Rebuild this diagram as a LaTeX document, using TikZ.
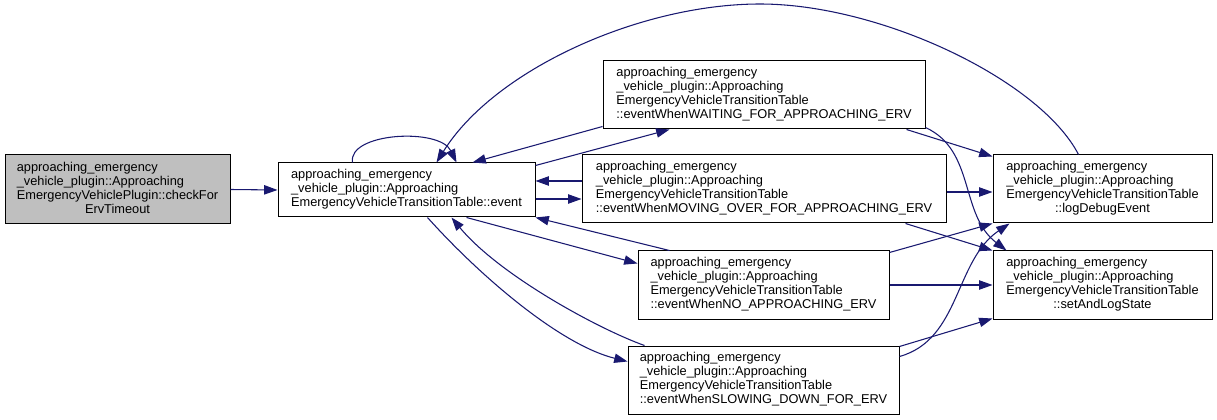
\documentclass[tikz,border=0pt]{standalone}
\usepackage{fontspec}
\setmainfont{Liberation Sans}
\usepackage{tikz}
\usetikzlibrary{arrows.meta}
\definecolor{callblue}{RGB}{25,25,112}
\definecolor{callergray}{RGB}{191,191,191}
\tikzset{
  fnbox/.style={rectangle, draw=black, line width=0.75pt, inner sep=0pt, minimum height=51pt, font=\fontsize{9.6}{10.5}\selectfont},
  callerbox/.style={fnbox, fill=callergray},
  call/.style={-{Triangle[length=10pt,width=7pt]}, draw=callblue, line width=0.8pt},
}
% doxygen style label: left lines, last line centred
\newcommand{\fnlabel}[2]{\begin{tabular}{@{}l@{}}#1\\\multicolumn{1}{@{}c@{}}{#2}\end{tabular}}
\newcommand{\aevtable}{approaching\_emergency\\\_vehicle\_plugin::Approaching\\EmergencyVehicleTransitionTable}

\begin{document}
\begin{tikzpicture}[x=0.75pt, y=-0.75pt]
  \useasboundingbox (0,0) rectangle (1217,420);

  % Caller
  \node[callerbox, minimum width=168.75pt, minimum height=51.75pt] (check) at (117.5,189.5)
    {\fnlabel{approaching\_emergency\\\_vehicle\_plugin::Approaching\\EmergencyVehiclePlugin::checkFor}{ErvTimeout}};

  % Dispatcher
  \node[fnbox, minimum width=192.75pt, minimum height=40.5pt] (event) at (406.5,190)
    {\fnlabel{approaching\_emergency\\\_vehicle\_plugin::Approaching}{EmergencyVehicleTransitionTable::event}};

  % State handlers
  \node[fnbox, minimum width=241.5pt] (waiting) at (764,95)
    {\fnlabel{\aevtable}{::eventWhenWAITING\_FOR\_APPROACHING\_ERV}};
  \node[fnbox, minimum width=273pt] (movingover) at (764,189)
    {\fnlabel{\aevtable}{::eventWhenMOVING\_OVER\_FOR\_APPROACHING\_ERV}};
  \node[fnbox, minimum width=188.25pt] (noerv) at (763.5,285)
    {\fnlabel{\aevtable}{::eventWhenNO\_APPROACHING\_ERV}};
  \node[fnbox, minimum width=203.25pt] (slowdown) at (763.5,380)
    {\fnlabel{\aevtable}{::eventWhenSLOWING\_DOWN\_FOR\_ERV}};

  % Helpers
  \node[fnbox, minimum width=164.25pt] (logdebug) at (1102.5,189)
    {\fnlabel{\aevtable}{::logDebugEvent}};
  \node[fnbox, minimum width=164.25pt] (setstate) at (1102.5,285)
    {\fnlabel{\aevtable}{::setAndLogState}};

  % Calls out of the caller and the dispatcher
  \draw[call] (check.east) -- (event.west);
  \draw[call] ([shift={(75,0)}]event.north west) .. controls +(-5,-30) and +(-17,-35) .. ([shift={(179,0)}]event.north west);
  \draw[call] ([shift={(0,3)}]event.north east) -- ([shift={(67,0)}]waiting.south west);
  \draw[call] ([shift={(0,9)}]event.east) -- ([shift={(0,10)}]movingover.west);
  \draw[call] ([shift={(189,0)}]event.south west) -- ([shift={(0,13)}]noerv.north west);
  \draw[call] ([shift={(150,0)}]event.south west) .. controls +(52,58) and +(-68,-17) .. ([shift={(0,16)}]slowdown.north west);

  % Handlers back to the dispatcher
  \draw[call] ([shift={(0,-3)}]waiting.south west) -- ([shift={(195,0)}]event.north west);
  \draw[call] ([shift={(0,-8)}]movingover.west) -- ([shift={(0,-9)}]event.east);
  \draw[call] ([shift={(32,0)}]noerv.north west) -- (event.south east);
  \draw[call] ([shift={(17,0)}]slowdown.north west) .. controls +(-45,-16) and +(48,58) .. ([shift={(174,0)}]event.south west);
  \draw[call] ([shift={(86,0)}]logdebug.north west) .. controls +(-39,-75) and (880,4) .. (760,4)
    .. controls (640,4) and +(58,-93) .. ([shift={(159,0)}]event.north west);

  % Handlers to the helpers
  \draw[call] ([shift={(-19,0)}]waiting.south east) -- ([shift={(0,2)}]logdebug.north west);
  \draw[call] ([shift={(0,-2)}]waiting.south east) .. controls +(50,23) and +(-47,-36) .. ([shift={(14,0)}]setstate.north west);
  \draw[call] ([shift={(0,3)}]movingover.east) -- ([shift={(0,3)}]logdebug.west);
  \draw[call] ([shift={(-41,0)}]movingover.south east) -- (setstate.north west);
  \draw[call] ([shift={(0,2)}]noerv.north east) -- (logdebug.south west);
  \draw[call] (noerv.east) -- (setstate.west);
  \draw[call] ([shift={(0,11)}]slowdown.north east) .. controls +(61,-17) and +(-55,37) .. ([shift={(17,0)}]logdebug.south west);
  \draw[call] ([shift={(0,1)}]slowdown.north east) -- ([shift={(0,-1)}]setstate.south west);

\end{tikzpicture}
\end{document}
